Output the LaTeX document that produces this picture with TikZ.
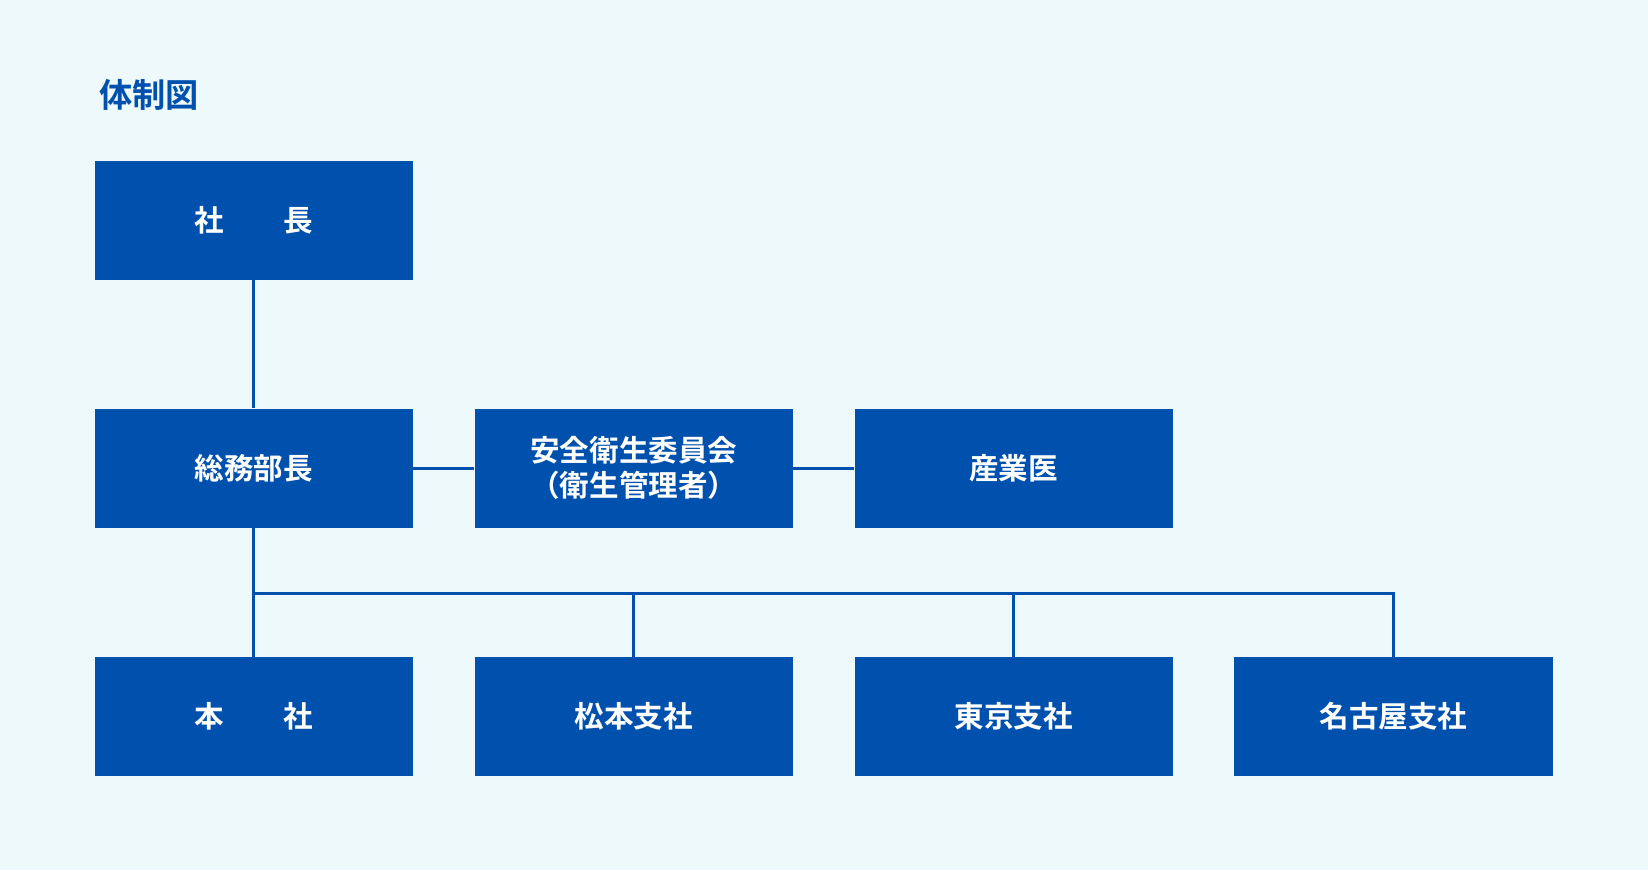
\documentclass[tikz,border=0pt]{standalone}
\usepackage{fontspec}
\newfontfamily\cjk{Noto Sans CJK JP}
\newfontfamily\cjkb{Noto Sans CJK JP Bold}
\definecolor{bg}{HTML}{EEF9FC}
\definecolor{bx}{HTML}{0050AE}
\begin{document}
\begin{tikzpicture}[x=0.02cm,y=-0.02cm,
  box/.style={fill=bx,draw=none,minimum width=6.06cm,minimum height=2.26cm,inner sep=0,text=white,font=\cjkb\fontsize{16}{19}\selectfont,align=center},
  ln/.style={draw=bx,line width=0.06cm}]
\fill[bg] (0,0) rectangle (1568,828);
\useasboundingbox (0,0) rectangle (1568,828);
\node[anchor=west,text=bx,font=\cjkb\fontsize{18}{22}\selectfont] (title) at (88,90) {体制図};
\node[box] (ceo) at (241.5,209.5) {社　　長};
\node[box] (gm) at (241.5,445.5) {総務部長};
\node[box] (sc) at (603,445.5) {安全衛生委員会\\（衛生管理者）};
\node[box] (doc) at (964.5,445.5) {産業医};
\node[box] (hq) at (241.5,681.5) {本　　社};
\node[box] (mt) at (603,681.5) {松本支社};
\node[box] (tk) at (964.5,681.5) {東京支社};
\node[box] (ng) at (1326,681.5) {名古屋支社};
\coordinate (b1) at (241.5,565);
\coordinate (b2) at (603,565);
\coordinate (b3) at (964.5,565);
\coordinate (b4) at (1326,565);
\draw[ln] (ceo.south) -- (gm.north);
\draw[ln] (gm.east) -- (sc.west);
\draw[ln] (sc.east) -- (doc.west);
\draw[ln] (gm.south) -- (hq.north);
\draw[ln] (b1) -- (b4) -- (ng.north);
\draw[ln] (b2) -- (mt.north);
\draw[ln] (b3) -- (tk.north);
\end{tikzpicture}
\end{document}
